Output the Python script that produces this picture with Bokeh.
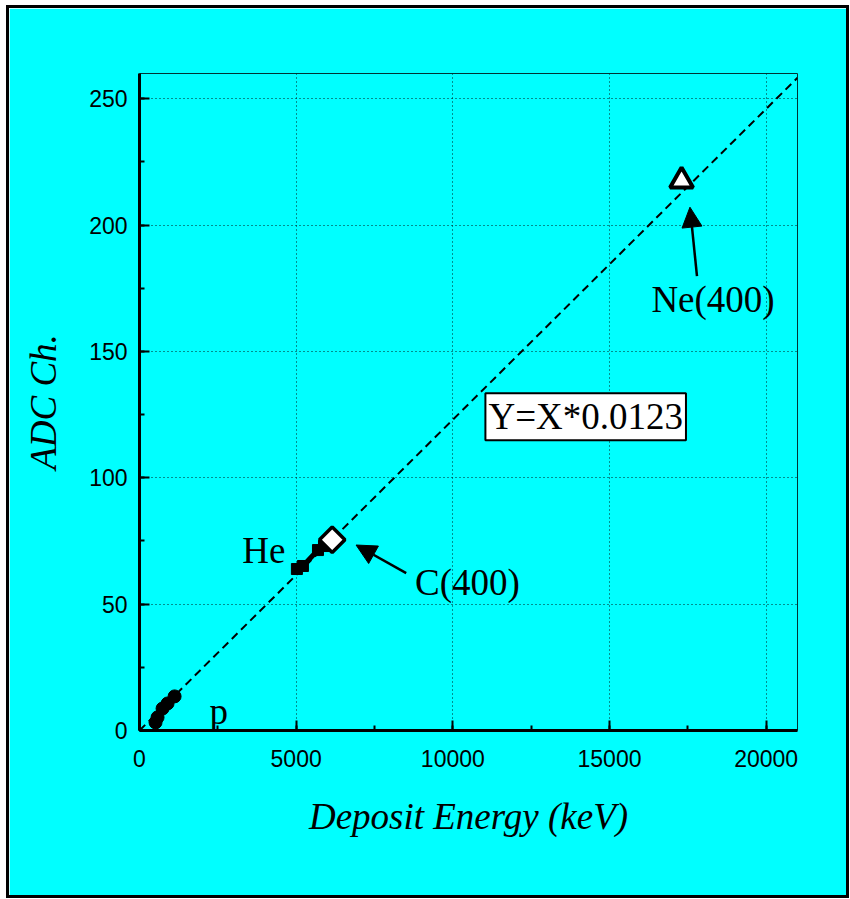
import math
from bokeh.plotting import figure
from bokeh.models import Label, Arrow, NormalHead, Range1d, SingleIntervalTicker, NumeralTickFormatter
from bokeh.embed import file_html
from bokeh.resources import INLINE

# data
p_energy = [512, 576, 736, 896, 1120]
p_adc = [3.2, 5.2, 8.7, 10.7, 13.5]
he_energy = [5024, 5216, 5696, 5888]
he_adc = [63.9, 65.1, 71.4, 73.0]
c_energy = [6150]
c_adc = [75.5]
ne_energy = [17300]
ne_adc = [217.5]
slope = 0.0123
fit_x = [0, 21000]
fit_y = [v * slope for v in fit_x]

CYAN = "#00FFFF"
p = figure(width=843, height=893, output_backend="svg", toolbar_location=None,
           x_range=Range1d(0, 21000), y_range=Range1d(0, 260),
           min_border_left=130, min_border_right=55, min_border_top=65, min_border_bottom=171)
p.styles = {"border": "3px solid black", "margin-left": "6px", "margin-top": "5px"}
p.background_fill_color = CYAN
p.border_fill_color = CYAN
p.outline_line_color = "#003333"
p.outline_line_width = 1

for ax in (p.xaxis[0], p.yaxis[0]):
    ax.axis_line_width = 3
    ax.axis_line_color = "black"
    ax.major_tick_in = 10
    ax.major_tick_out = 0
    ax.minor_tick_in = 5
    ax.minor_tick_out = 0
    ax.major_tick_line_width = 2
    ax.minor_tick_line_width = 2
    ax.major_label_text_font = "Liberation Sans"
    ax.major_label_text_font_size = "23px"
    ax.major_label_text_color = "black"
    ax.axis_label_text_font = "Liberation Serif"
    ax.axis_label_text_font_style = "italic"
    ax.axis_label_text_font_size = "37px"
    ax.axis_label_text_color = "black"

p.xaxis.ticker = SingleIntervalTicker(interval=5000, num_minor_ticks=2)
p.yaxis.ticker = SingleIntervalTicker(interval=50, num_minor_ticks=2)
p.xaxis.formatter = NumeralTickFormatter(format="0")
p.xaxis.axis_label = "Deposit Energy (keV)"
p.yaxis.axis_label = "ADC Ch."
p.xaxis.major_label_standoff = 19
p.yaxis.major_label_standoff = 12
p.xaxis.axis_label_standoff = 26
p.yaxis.axis_label_standoff = 22

for g in (p.xgrid[0], p.ygrid[0]):
    g.grid_line_color = "#002020"
    g.grid_line_dash = "1 3"
    g.grid_line_width = 1

p.line(fit_x, fit_y, line_color="black", line_width=2, line_dash="8 5")
p.scatter(p_energy, p_adc, marker="circle", size=13, color="black")
p.line(he_energy, he_adc, line_color="black", line_width=5)
p.scatter(he_energy, he_adc, marker="square", size=11, color="black")
p.scatter(c_energy, c_adc, marker="square", size=18, angle=math.pi / 4,
          fill_color="white", line_color="black", line_width=3.5)
p.scatter(ne_energy, ne_adc, marker="triangle", size=23, fill_color="white", line_color="black", line_width=4)

def lab(x, y, t, align="center", base="middle", box=False):
    kw = {}
    if box:
        kw = dict(background_fill_color="white", border_line_color="black", border_line_width=2,
                  padding=3)
    p.add_layout(Label(x=x, y=y, text=t, text_font="Liberation Serif", text_font_size="37px",
                       text_color="black", text_align=align, text_baseline=base, **kw))

lab(18304, 170.6, "Ne(400)")
lab(10464, 58.7, "C(400)")
lab(3968, 71.4, "He")
lab(2528, 7.5, "p", base="alphabetic")
lab(14240, 124.2, "Y=X*0.0123", box=True)

p.add_layout(Arrow(end=NormalHead(size=20, fill_color="black", line_color="black"),
                   x_start=17792, y_start=179.8, x_end=17568, y_end=207.1, line_width=2.5))
p.add_layout(Arrow(end=NormalHead(size=20, fill_color="black", line_color="black"),
                   x_start=8512, y_start=62.3, x_end=6912, y_end=73.4, line_width=2.5))

open("out.html", "w").write(file_html(p, INLINE))
